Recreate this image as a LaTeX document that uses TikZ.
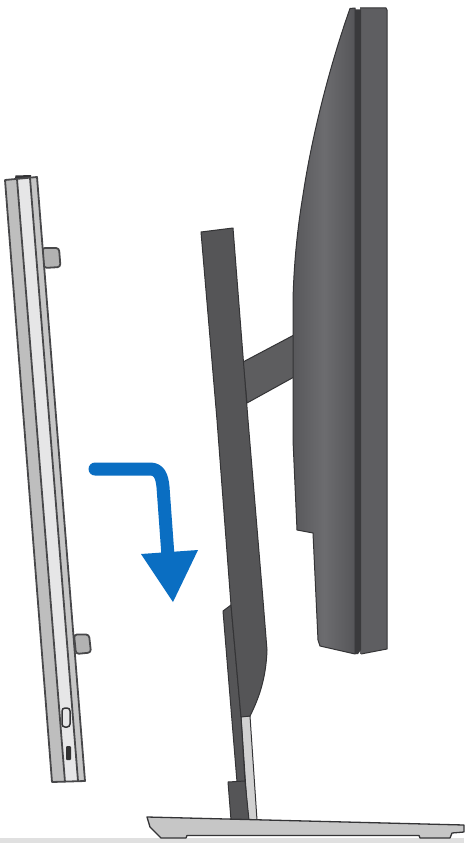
\documentclass[tikz,border=0pt]{standalone}
\definecolor{edge}{HTML}{343436}
\definecolor{monoA}{HTML}{58585B}
\definecolor{monoB}{HTML}{6C6C6F}
\definecolor{monoC}{HTML}{565659}
\definecolor{strip}{HTML}{3A3A3C}
\definecolor{standdark}{HTML}{555557}
\definecolor{silverA}{HTML}{BEBEBE}
\definecolor{silverB}{HTML}{E6E6E7}
\definecolor{silverC}{HTML}{C6C6C6}
\definecolor{arrowblue}{HTML}{0A6EC2}
\tikzset{
  outline/.style={draw=edge,line width=1pt,line join=round},
  panelline/.style={draw=edge!90,line width=1.8pt,line join=round},
  darkpart/.style={outline,fill=standdark},
}
\begin{document}
\begin{tikzpicture}[x=1pt,y=-1pt]
\useasboundingbox (0,0) rectangle (464,843);
\fill[white] (0,0) rectangle (464,843);
\fill[black!12] (0,838) rectangle (464,843);
% removable panel: tabs behind
\draw[panelline,fill=silverC!90!black,rounded corners=3pt] (42,248) -- (59,248) -- (60.5,267) -- (44,268) -- cycle;
\draw[panelline,fill=silverC!90!black,rounded corners=3pt] (74,634.5) -- (89,634.5) -- (91,652.5) -- (76,654) -- cycle;
\fill[edge] (15,178) -- (15.5,175.5) -- (31,175) -- (31,178) -- cycle;
% panel bands
\fill[silverA] (5,180) -- (17,179) -- (65,782) -- (52,782) -- cycle;
\fill[silverB] (17,179) -- (30,178) -- (78,781) -- (65,782) -- cycle;
\fill[silverC] (30,178) -- (37,177) -- (85,781) -- (78,781) -- cycle;
\draw[panelline] (5,180) -- (37,177) -- (85,781) -- (52,782) -- cycle;
\draw[panelline] (17,179) -- (65,782);
\draw[panelline] (30,178) -- (78,781);
% ports
\draw[draw=edge,line width=1.5pt,fill=silverB,rounded corners=3pt] (62,708) rectangle (70,727);
\fill[black!80,rounded corners=1pt] (66,746) rectangle (71,760);
% arrow
\draw[arrowblue,line width=13pt,line cap=round,line join=round] (95,469) -- (150,469) .. controls (159,469) and (162,476) .. (163,487) -- (168,556);
\fill[arrowblue] (141,554) -- (198,550) -- (173,602) -- cycle;
% arm
\draw[outline,fill=standdark!95!white] (243,362) -- (294,335) -- (294,377) -- (247,403) -- cycle;
% monitor
\draw[outline,left color=monoA,right color=monoC,middle color=monoB]
  (350,8.5) -- (355,8) -- (355,654) -- (320,646) -- (318,640) -- (313,533) -- (297,530) -- (293,440) -- (293,300)
  .. controls (294,260) and (298,225) .. (303,195)
  .. controls (312,135) and (330,65) .. (350,8.5) -- cycle;
\fill[monoC!95!white] (360,8) -- (386,8) -- (387,10) -- (387,649) -- (360,654) -- cycle;
\fill[monoB!35!monoC] (371,9) rectangle (378,649);
\draw[outline] (360,8) -- (386,8) -- (387,10) -- (387,649) -- (361,654);
\fill[strip] (355,9.5) -- (361,9.5) -- (361,650) -- (358,654) -- (355,654) -- cycle;
% silver stand foot
\draw[outline,fill=silverC!80!white] (241,716) -- (250,716) -- (257,820) -- (248,820) -- cycle;
% back lower cover
\draw[darkpart] (223,611) -- (231,605) -- (241,717) -- (245,782) -- (237,782) -- cycle;
% stand column
\draw[darkpart] (201,232) -- (233,228) -- (248,420) -- (263,600) -- (267,650)
  .. controls (266,680) and (258,700) .. (250,716) -- (241,717)
  -- (231,605) -- (217,420) -- cycle;
% dark foot block
\draw[darkpart] (228,782) -- (245,781) -- (249,820) -- (231,820) -- cycle;
% base
\draw[outline,fill=silverC,line width=1.3pt] (147,817) -- (464,825) -- (464,832) -- (452,833) -- (450,838) -- (420,838) -- (419,835.5) -- (187,835.5) -- (186,838) -- (161,838) -- (150,827) -- cycle;
\end{tikzpicture}
\end{document}
